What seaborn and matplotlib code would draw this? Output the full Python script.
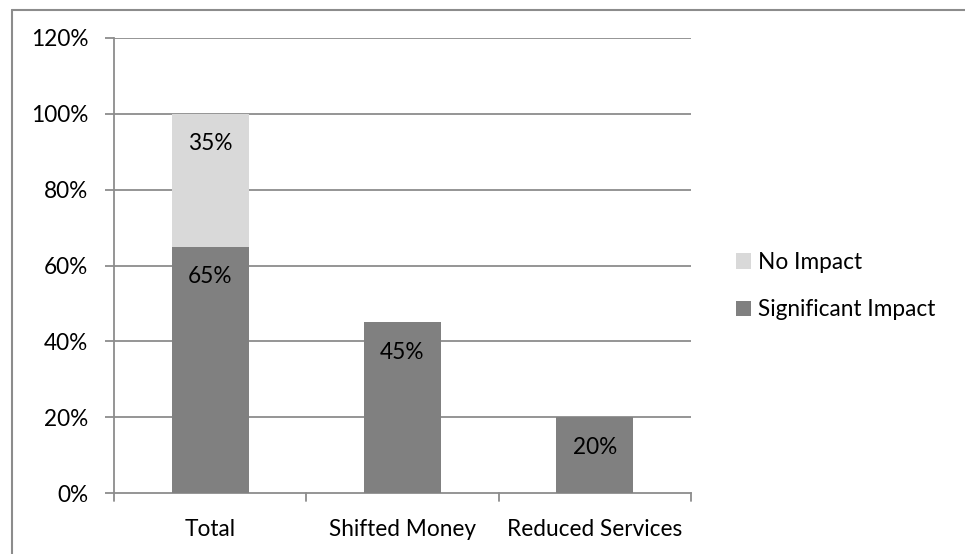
import matplotlib
matplotlib.use("Agg")
import matplotlib.pyplot as plt
import seaborn as sns
import pandas as pd
from matplotlib.patches import Patch
from matplotlib.lines import Line2D

categories = ["Total", "Shifted Money", "Reduced Services"]
significant = [65, 45, 20]
no_impact = [35, 0, 0]
y_ticks = [0, 20, 40, 60, 80, 100, 120]
y_labels = ["0%", "20%", "40%", "60%", "80%", "100%", "120%"]

DARK = "#808080"
LIGHT = "#d9d9d9"
GRID = "#8c8c8c"
FS = 16.3

sns.set_theme(style="white")
plt.rcParams["font.family"] = ["Lato", "DejaVu Sans"]

df = pd.DataFrame({"category": categories,
                   "significant": significant,
                   "no_impact": no_impact})
df["top"] = df["significant"] + df["no_impact"]

fig = plt.figure(figsize=(9.65, 5.54), dpi=100)
ax = fig.add_axes([114 / 965, 61 / 554, 577 / 965, 455 / 554])

# stacked bars: draw the full stack in light grey, then the base segment over it
sns.barplot(data=df[df["no_impact"] > 0], x="category", y="top", order=categories,
            color=LIGHT, width=0.4, saturation=1, linewidth=0, ax=ax, zorder=2)
sns.barplot(data=df, x="category", y="significant", order=categories,
            color=DARK, width=0.4, saturation=1, linewidth=0, ax=ax, zorder=3)

ax.set_ylim(0, 120)
ax.set_xlim(-0.5, 2.5)
ax.set_yticks(y_ticks)
ax.set_yticklabels(y_labels, fontsize=FS, color="black")
ax.set_xticks(range(len(categories)))
ax.set_xticklabels(categories, fontsize=FS, color="black")
ax.set_xlabel("")
ax.set_ylabel("")

# gridlines and axes in Excel grey
for y in y_ticks[1:]:
    ax.axhline(y, color=GRID, lw=1.3, zorder=1)
for s in ["top", "right"]:
    ax.spines[s].set_visible(False)
for s in ["left", "bottom"]:
    ax.spines[s].set_color(GRID)
    ax.spines[s].set_linewidth(1.3)
ax.tick_params(axis="y", length=6.5, width=1.3, color=GRID, left=True, pad=12)
ax.tick_params(axis="x", length=0, pad=19)
# category boundary ticks on the x axis
for xb in [-0.5, 0.5, 1.5, 2.5]:
    ax.add_line(Line2D([xb, xb], [0, -2.2], color=GRID, lw=1.3, clip_on=False))

# value labels just inside the top of each segment
for i, v in enumerate(significant):
    ax.annotate(f"{v}%", (i, v), xytext=(0, -30), textcoords="offset pixels",
                ha="center", va="center", fontsize=FS, color="black", zorder=5)
for i, (b, v) in enumerate(zip(significant, no_impact)):
    if v > 0:
        ax.annotate(f"{v}%", (i, b + v), xytext=(0, -30), textcoords="offset pixels",
                    ha="center", va="center", fontsize=FS, color="black", zorder=5)

handles = [Patch(facecolor=LIGHT, edgecolor="none", label="No Impact"),
           Patch(facecolor=DARK, edgecolor="none", label="Significant Impact")]
fig.legend(handles=handles, loc="center left", bbox_to_anchor=(716 / 965, 1 - 286 / 554),
           frameon=False, fontsize=FS, handlelength=0.65, handleheight=0.65,
           handletextpad=0.3, labelspacing=1.15, labelcolor="black")

# chart frame (only the left and top edges fall inside the image)
fig.add_artist(Line2D([12 / 965, 12 / 965], [0, 1 - 10 / 554], color=GRID, lw=1.5,
                      transform=fig.transFigure))
fig.add_artist(Line2D([12 / 965, 1], [1 - 10 / 554, 1 - 10 / 554], color=GRID, lw=1.5,
                      transform=fig.transFigure))

fig.savefig("out.png", dpi=100)
